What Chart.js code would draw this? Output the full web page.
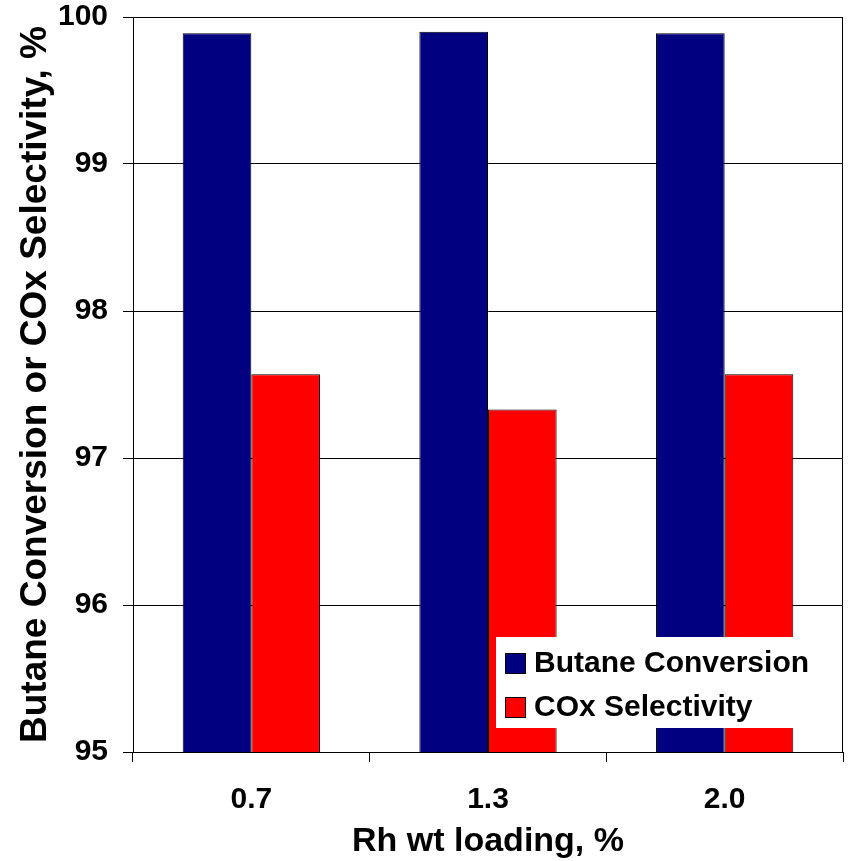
<!DOCTYPE html>
<html>
<head>
<meta charset="utf-8">
<script src="https://cdn.jsdelivr.net/npm/chart.js@4"></script>
<style>
  html, body { margin: 0; padding: 0; background: #fff; }
  #wrap { width: 848px; height: 861px; }
</style>
</head>
<body>
<div id="wrap"><canvas id="rhChart" width="848" height="861"></canvas></div>
<script>
// Data
const loadings = ["0.7", "1.3", "2.0"];
const butaneConversion = [99.89, 99.9, 99.89];
const coxSelectivity = [97.57, 97.33, 97.57];
const yTicks = [95, 96, 97, 98, 99, 100];

const FONT = "'Liberation Sans', Arial, sans-serif";

// plot area frame (Excel style box)
const frame = {
  id: "frame",
  afterDatasetsDraw(chart) {
    const a = chart.chartArea;
    const ctx = chart.ctx;
    ctx.save();
    ctx.strokeStyle = "#000";
    ctx.lineWidth = 1;
    ctx.strokeRect(Math.round(a.left) + 0.5, Math.round(a.top) + 0.5,
      Math.round(a.right - a.left) - 1, Math.round(a.bottom - a.top));
    ctx.restore();
  },
};

// legend box sitting inside the plot, over the bars
const insideLegend = {
  id: "insideLegend",
  afterDatasetsDraw(chart) {
    const a = chart.chartArea;
    const ctx = chart.ctx;
    const x0 = a.left + 363;
    const y0 = a.top + 620;
    ctx.save();
    ctx.fillStyle = "#fff";
    ctx.fillRect(x0, y0, 332, 91);
    ctx.font = "bold 30px " + FONT;
    ctx.textBaseline = "middle";
    chart.data.datasets.forEach((ds, i) => {
      const cy = y0 + 26 + i * 44;
      ctx.fillStyle = ds.backgroundColor;
      ctx.fillRect(x0 + 9, cy - 10, 21, 21);
      ctx.strokeStyle = "#000";
      ctx.lineWidth = 1;
      ctx.strokeRect(x0 + 9.5, cy - 9.5, 20, 20);
      ctx.fillStyle = "#000";
      ctx.fillText(ds.label, x0 + 38, cy + 1);
    });
    ctx.restore();
  },
};

const ctx = document.getElementById("rhChart").getContext("2d");
const rhChart = new Chart(ctx, {
  type: "bar",
  data: {
    labels: loadings,
    datasets: [
      {
        label: "Butane Conversion",
        data: butaneConversion,
        backgroundColor: "#000080",
        borderColor: "#000",
        borderWidth: 1,
        barPercentage: 1,
        categoryPercentage: 0.58,
      },
      {
        label: "COx Selectivity",
        data: coxSelectivity,
        backgroundColor: "#ff0000",
        borderColor: "#000",
        borderWidth: 1,
        barPercentage: 1,
        categoryPercentage: 0.58,
      },
    ],
  },
  options: {
    responsive: false,
    animation: false,
    layout: { padding: { top: 17, right: 5, left: 0, bottom: 0 } },
    plugins: {
      legend: { display: false },
      tooltip: { enabled: false },
    },
    scales: {
      x: {
        grid: {
          offset: true,
          drawOnChartArea: false,
          drawTicks: true,
          tickLength: 10,
          color: "#000",
        },
        border: { color: "#000" },
        ticks: {
          color: "#000",
          padding: 20,
          font: { family: FONT, size: 30, weight: "bold" },
        },
        title: {
          display: true,
          text: "Rh wt loading, %",
          color: "#000",
          padding: { top: 0, bottom: 2 },
          font: { family: FONT, size: 34, weight: "bold", lineHeight: 1 },
        },
        afterFit(scale) {
          scale.height = 109;
        },
      },
      y: {
        min: 95,
        max: 100,
        afterBuildTicks(scale) {
          scale.ticks = yTicks.map((v) => ({ value: v }));
        },
        grid: {
          color: "#000",
          tickLength: 10,
        },
        border: { color: "#000" },
        ticks: {
          color: "#000",
          padding: 15,
          font: { family: FONT, size: 30, weight: "bold", lineHeight: 1 },
        },
        title: {
          display: true,
          text: "Butane Conversion or COx Selectivity, %",
          color: "#000",
          padding: { top: 17, bottom: 0 },
          font: { family: FONT, size: 37, weight: "bold", lineHeight: 1 },
        },
        afterFit(scale) {
          scale.width = 133;
          scale.paddingTop = 0;
          scale.paddingBottom = 0;
        },
      },
    },
  },
  plugins: [frame, insideLegend],
});
</script>
</body>
</html>
